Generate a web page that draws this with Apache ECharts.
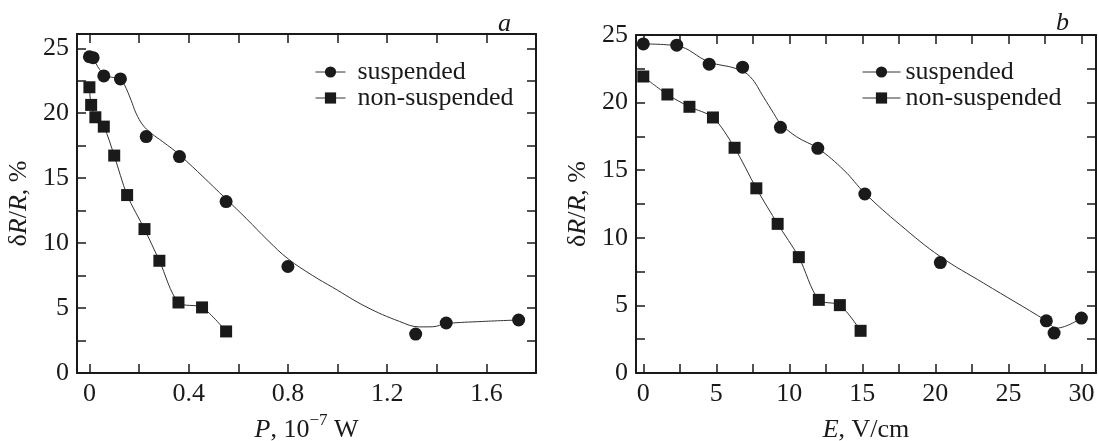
<!DOCTYPE html>
<html>
<head>
<meta charset="utf-8">
<script src="https://cdn.jsdelivr.net/npm/echarts@6/dist/echarts.min.js"></script>
<style>
  html, body { margin: 0; padding: 0; background: #fff; }
  #chart { width: 1099px; height: 441px; }
</style>
</head>
<body>
<div id="chart"></div>
<script>
// panel a: dR/R vs absorbed power P (10^-7 W)
const powerSuspended = [0, 0.015, 0.058, 0.125, 0.229, 0.363, 0.551, 0.80, 1.315, 1.438, 1.73]
const ratioPowerSuspended = [24.35, 24.28, 22.87, 22.64, 18.2, 16.66, 13.2, 8.2, 3.0, 3.85, 4.08]
const powerNonSuspended = [0, 0.007, 0.024, 0.058, 0.10, 0.152, 0.222, 0.282, 0.359, 0.454, 0.551]
const ratioPowerNonSuspended = [22.0, 20.64, 19.69, 18.97, 16.74, 13.7, 11.08, 8.64, 5.43, 5.05, 3.2]
// guide curve through the suspended points
const fitPower = [0.015, 0.058, 0.125, 0.141, 0.168, 0.188, 0.215, 0.249, 0.296, 0.363, 0.551, 0.632, 0.72, 0.80, 0.90, 0.98, 1.115, 1.25, 1.33, 1.384, 1.438, 1.586, 1.73]
const fitRatioPower = [24.3, 23.0, 22.6, 22.2, 21.0, 20.0, 19.1, 18.46, 17.8, 16.8, 13.4, 11.9, 10.2, 8.8, 7.5, 6.6, 5.1, 3.97, 3.55, 3.56, 3.8, 3.97, 4.08]

// panel b: dR/R vs field E (V/cm)
const fieldSuspended = [0, 2.29, 4.51, 6.8, 9.39, 11.95, 15.17, 20.34, 27.6, 28.13, 30.0]
const ratioFieldSuspended = [24.34, 24.25, 22.84, 22.62, 18.17, 16.62, 13.24, 8.17, 3.86, 2.95, 4.06]
const fieldNonSuspended = [0, 1.65, 3.16, 4.77, 6.25, 7.74, 9.2, 10.65, 12.02, 13.46, 14.88]
const ratioFieldNonSuspended = [21.93, 20.6, 19.69, 18.9, 16.66, 13.66, 11.03, 8.57, 5.41, 5.02, 3.12]
const fitField = [0, 2.29, 4.51, 6.41, 7.33, 8.24, 8.93, 9.39, 10.5, 11.95, 13.74, 15.17, 17.6, 20.34, 23.3, 27.6, 28.3, 30.0]
const fitRatioField = [24.34, 24.2, 23.0, 22.5, 21.9, 20.4, 19.2, 18.46, 17.47, 16.62, 15.0, 13.3, 10.95, 8.61, 6.65, 3.86, 3.32, 4.06]

const seriesNames = ['suspended', 'non-suspended']

const ink = '#1a1a1a'
const curve = '#333'
const serif = '"Liberation Serif", "Times New Roman", serif'

const zip = (xs, ys) => xs.map((x, i) => [x, ys[i]])
const onStep = (v, step) => Math.abs(v / step - Math.round(v / step)) < 1e-6

function valueAxis (opts) {
  const { gridIndex, min, max, step, labelStep, position, labels, name, nameGap } = opts
  return {
    type: 'value',
    gridIndex,
    position,
    min,
    max,
    minInterval: step,
    maxInterval: step,
    splitNumber: Math.round((max - min) / step),
    axisLine: { show: true, onZero: false, lineStyle: { color: ink, width: 2 } },
    axisTick: { show: true, inside: true, length: 9, lineStyle: { color: ink, width: 1.5 } },
    axisLabel: {
      show: labels,
      margin: 8,
      fontSize: 26,
      color: ink,
      fontFamily: serif,
      formatter: v => (onStep(v, labelStep) && v >= 0) ? String(+v.toFixed(2)) : ''
    },
    splitLine: { show: false },
    name: name || '',
    nameLocation: 'middle',
    nameGap: nameGap || 0,
    nameTextStyle: {
      fontSize: 26,
      color: ink,
      fontFamily: serif,
      lineHeight: 36,
      rich: {
        it: { fontStyle: 'italic', fontSize: 26, color: ink, fontFamily: serif, lineHeight: 36 },
        sup: { fontSize: 17, color: ink, fontFamily: serif, verticalAlign: 'top', lineHeight: 18 }
      }
    }
  }
}

function markerSeries (name, symbol, size, xi, yi, data, withLine) {
  return {
    name,
    type: 'line',
    xAxisIndex: xi,
    yAxisIndex: yi,
    data,
    symbol,
    symbolSize: size,
    showSymbol: true,
    smooth: 0.3,
    itemStyle: { color: ink, borderWidth: 0 },
    lineStyle: { color: curve, width: withLine ? 1 : 0 },
    z: 3
  }
}

function fitSeries (xi, yi, data) {
  return {
    name: 'fit',
    type: 'line',
    xAxisIndex: xi,
    yAxisIndex: yi,
    data,
    smooth: 0.4,
    showSymbol: false,
    lineStyle: { color: curve, width: 1 },
    z: 2
  }
}

function legendFor (left, itemWidth, textPad) {
  return {
    data: seriesNames,
    orient: 'vertical',
    left,
    top: 54,
    itemWidth,
    itemHeight: 14,
    itemGap: 0,
    selectedMode: false,
    lineStyle: { color: curve, width: 1, opacity: 1 },
    textStyle: { fontSize: 26, color: ink, fontFamily: serif, padding: [0, 0, 0, textPad] }
  }
}

const chart = echarts.init(document.getElementById('chart'))

const option = {
  animation: false,
  backgroundColor: '#fff',
  title: [
    { text: 'a', left: 493, top: 6, textStyle: { fontStyle: 'italic', fontWeight: 'normal', fontSize: 26, color: ink, fontFamily: serif } },
    { text: 'b', left: 1051, top: 5, textStyle: { fontStyle: 'italic', fontWeight: 'normal', fontSize: 26, color: ink, fontFamily: serif } }
  ],
  legend: [legendFor(310, 30, 7), legendFor(857, 38, 0)],
  grid: [
    { left: 77, top: 34, width: 459, height: 339, outerBoundsMode: 'none', containLabel: false },
    { left: 636, top: 35, width: 460, height: 338, outerBoundsMode: 'none', containLabel: false }
  ],
  xAxis: [
    valueAxis({ gridIndex: 0, min: -0.05, max: 1.8, step: 0.2, labelStep: 0.4, position: 'bottom', labels: true, name: '{it|P}, 10{sup|−7} W', nameGap: 19 }),
    valueAxis({ gridIndex: 0, min: -0.05, max: 1.8, step: 0.2, labelStep: 0.4, position: 'top', labels: false }),
    valueAxis({ gridIndex: 1, min: -0.5, max: 31, step: 2.5, labelStep: 5, position: 'bottom', labels: true, name: '{it|E}, V/cm', nameGap: 19 }),
    valueAxis({ gridIndex: 1, min: -0.5, max: 31, step: 2.5, labelStep: 5, position: 'top', labels: false })
  ],
  yAxis: [
    valueAxis({ gridIndex: 0, min: 0, max: 26.1, step: 2.5, labelStep: 5, position: 'left', labels: true, name: 'δ{it|R}/{it|R}, %', nameGap: 40 }),
    valueAxis({ gridIndex: 0, min: 0, max: 26.1, step: 2.5, labelStep: 5, position: 'right', labels: false }),
    valueAxis({ gridIndex: 1, min: 0, max: 25, step: 2.5, labelStep: 5, position: 'left', labels: true, name: 'δ{it|R}/{it|R}, %', nameGap: 40 }),
    valueAxis({ gridIndex: 1, min: 0, max: 25, step: 2.5, labelStep: 5, position: 'right', labels: false })
  ],
  series: [
    fitSeries(0, 0, zip(fitPower, fitRatioPower)),
    markerSeries('suspended', 'circle', 13, 0, 0, zip(powerSuspended, ratioPowerSuspended), false),
    markerSeries('non-suspended', 'rect', 12, 0, 0, zip(powerNonSuspended, ratioPowerNonSuspended), true),
    fitSeries(2, 2, zip(fitField, fitRatioField)),
    markerSeries('suspended', 'circle', 13, 2, 2, zip(fieldSuspended, ratioFieldSuspended), false),
    markerSeries('non-suspended', 'rect', 12, 2, 2, zip(fieldNonSuspended, ratioFieldNonSuspended), true)
  ]
}

chart.setOption(option)
</script>
</body>
</html>
